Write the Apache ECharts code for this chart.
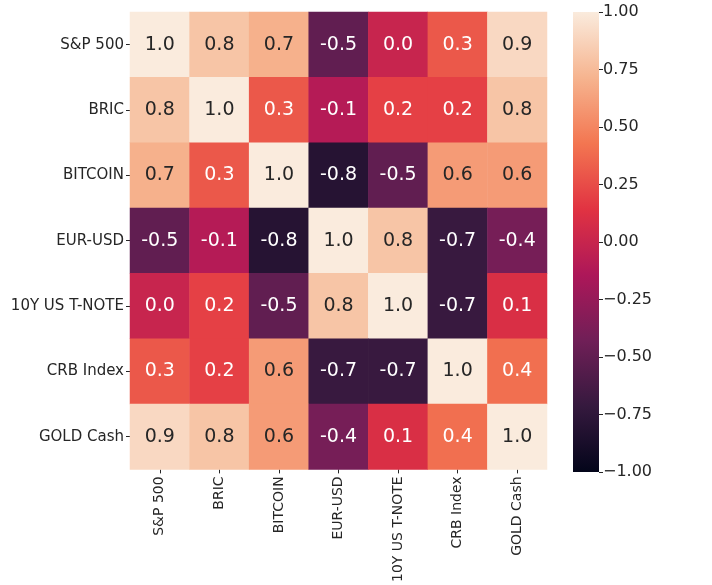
<!DOCTYPE html>
<html><head><meta charset="utf-8">
<script src="https://cdn.jsdelivr.net/npm/echarts@6/dist/echarts.min.js"></script>
<style>html,body{margin:0;padding:0;background:#fff}#c{width:712px;height:585px}</style>
</head><body><div id="c"></div>
<script>
const categories = ['S&P 500','BRIC','BITCOIN','EUR-USD','10Y US T-NOTE','CRB Index','GOLD Cash'];
const rowSP      = [1.0, 0.8, 0.7, -0.5, 0.0, 0.3, 0.9];
const rowBRIC    = [0.8, 1.0, 0.3, -0.1, 0.2, 0.2, 0.8];
const rowBITCOIN = [0.7, 0.3, 1.0, -0.8, -0.5, 0.6, 0.6];
const rowEURUSD  = [-0.5, -0.1, -0.8, 1.0, 0.8, -0.7, -0.4];
const rowTNOTE   = [0.0, 0.2, -0.5, 0.8, 1.0, -0.7, 0.1];
const rowCRB     = [0.3, 0.2, 0.6, -0.7, -0.7, 1.0, 0.4];
const rowGOLD    = [0.9, 0.8, 0.6, -0.4, 0.1, 0.4, 1.0];
const matrix = [rowSP, rowBRIC, rowBITCOIN, rowEURUSD, rowTNOTE, rowCRB, rowGOLD];
const colorMin = -1, colorMax = 1, colorStep = 0.25;

const rocket = ['#03051A','#35193E','#701F57','#AD1759','#E13342','#F37651','#F6B48F','#FAEBDD'];
const FONT = 'DejaVu Sans';

const data = [];
matrix.forEach((row, r) => row.forEach((v, c) => {
  data.push({value: [c, r, v], label: {color: v >= 0.5 ? '#262626' : '#ffffff'}});
}));

const chart = echarts.init(document.getElementById('c'), null, {renderer: 'canvas'});
chart.setOption({
  animation: false,
  backgroundColor: '#fff',
  textStyle: {fontFamily: FONT},
  grid: [
    {left: 130, top: 12, width: 417, height: 460},
    {left: 573, top: 12, width: 26, height: 460}
  ],
  xAxis: [
    {type: 'category', data: categories, gridIndex: 0, position: 'bottom',
     axisLine: {show: false}, axisTick: {show: true, alignWithLabel: true, length: 4, lineStyle: {color: '#262626'}},
     axisLabel: {rotate: 90, fontSize: 14, color: '#262626', fontFamily: FONT, margin: 7}, splitLine: {show: false}},
    {type: 'category', data: [''], gridIndex: 1, show: false}
  ],
  yAxis: [
    {type: 'category', data: categories, gridIndex: 0, inverse: true,
     axisLine: {show: false}, axisTick: {show: true, alignWithLabel: true, length: 4, lineStyle: {color: '#262626'}},
     axisLabel: {fontSize: 15, color: '#262626', fontFamily: FONT, margin: 6}, splitLine: {show: false}},
    {type: 'value', gridIndex: 1, position: 'right', min: colorMin, max: colorMax, interval: colorStep,
     axisLine: {show: false, onZero: false}, axisTick: {show: true, length: 4, lineStyle: {color: '#262626'}},
     splitLine: {show: false},
     axisLabel: {fontSize: 16, color: '#262626', fontFamily: FONT, margin: 4,
       formatter: v => (v < 0 ? '\u2212' : '') + Math.abs(v).toFixed(2)}}
  ],
  visualMap: {
    type: 'continuous', min: colorMin, max: colorMax, seriesIndex: 0, show: false,
    inRange: {color: rocket}
  },
  series: [
    {type: 'heatmap', xAxisIndex: 0, yAxisIndex: 0, data: data,
     label: {show: true, fontSize: 19, fontFamily: FONT,
       formatter: p => p.value[2].toFixed(1)},
     itemStyle: {borderWidth: 0}, emphasis: {disabled: true}},
    {type: 'scatter', xAxisIndex: 1, yAxisIndex: 1, data: [], silent: true}
  ]
});

// colorbar: gradient placed using the colorbar axis scale
const cbTop = chart.convertToPixel({yAxisIndex: 1}, colorMax);
const cbBot = chart.convertToPixel({yAxisIndex: 1}, colorMin);
const cbStops = rocket.map((c, i) => ({offset: 1 - i / (rocket.length - 1), color: c}));
chart.setOption({
  graphic: [{
    type: 'rect', z: 0, silent: true,
    shape: {x: 573, y: cbTop, width: 26, height: cbBot - cbTop},
    style: {fill: new echarts.graphic.LinearGradient(0, 0, 0, 1, cbStops)}
  }]
});
</script></body></html>
